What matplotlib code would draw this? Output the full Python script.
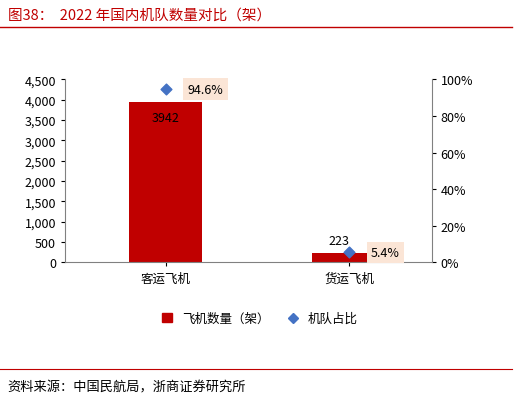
import matplotlib.pyplot as plt
from matplotlib.lines import Line2D

plt.rcParams['font.family'] = ['Noto Sans CJK SC', 'DejaVu Sans']

categories = ['客运飞机', '货运飞机']
fleet = [3942, 223]
share = [94.6, 5.4]

fig = plt.figure(figsize=(5.2, 4.02), dpi=100)
ax = fig.add_axes([0.125, 0.345, 0.705, 0.455])

x = [0, 1]
bars = ax.bar(x, fleet, width=0.4, color='#C00000', zorder=2)
ax.set_xlim(-0.55, 1.45)
ax.set_ylim(0, 4500)
ax.set_yticks(range(0, 4501, 500))
ax.set_yticklabels([f'{v:,}' for v in range(0, 4501, 500)], fontsize=9)
ax.set_xticks(x)
ax.set_xticklabels(categories, fontsize=9)
for s in ['top', 'right']:
    ax.spines[s].set_visible(False)
ax.spines['left'].set_color('#808080')
ax.spines['bottom'].set_color('#808080')
ax.tick_params(length=3, colors='black')

ax.text(0, fleet[0] - 220, f'{fleet[0]}', ha='center', va='top', fontsize=9)
ax.text(1, fleet[1] + 150, f'{fleet[1]}', ha='right', va='bottom', fontsize=9)

ax2 = ax.twinx()
ax2.set_ylim(0, 100)
ax2.set_yticks(range(0, 101, 20))
ax2.set_yticklabels([f'{v}%' for v in range(0, 101, 20)], fontsize=9)
ax2.scatter(x, share, marker='D', s=30, color='#4472C4', zorder=3)
for s in ['top', 'left', 'bottom']:
    ax2.spines[s].set_visible(False)
ax2.spines['right'].set_color('#808080')
ax2.tick_params(length=3)
for xi, v in zip(x, share):
    ax2.text(xi + 0.12, v, f'{v}%', ha='left', va='center', fontsize=9,
             bbox=dict(boxstyle='square,pad=0.35', fc='#FBE5D6', ec='none'))

handles = [plt.Rectangle((0, 0), 1, 1, color='#C00000'),
           Line2D([], [], marker='D', ls='none', color='#4472C4', markersize=5)]
fig.legend(handles, ['飞机数量（架）', '机队占比'], loc='center', bbox_to_anchor=(0.5, 0.205),
           ncol=2, frameon=False, fontsize=9, handlelength=0.8, columnspacing=1.5)

fig.text(0.015, 0.96, '图38：  2022 年国内机队数量对比（架）', color='#C00000', fontsize=10.5,
         va='center')
fig.add_artist(Line2D([0.0, 0.985], [0.93, 0.93], color='#C00000', lw=1))
fig.add_artist(Line2D([0.0, 0.985], [0.08, 0.08], color='#C00000', lw=0.8))
fig.text(0.015, 0.035, '资料来源：中国民航局，浙商证券研究所', fontsize=9.5, va='center')

fig.savefig('out.png', dpi=100)
